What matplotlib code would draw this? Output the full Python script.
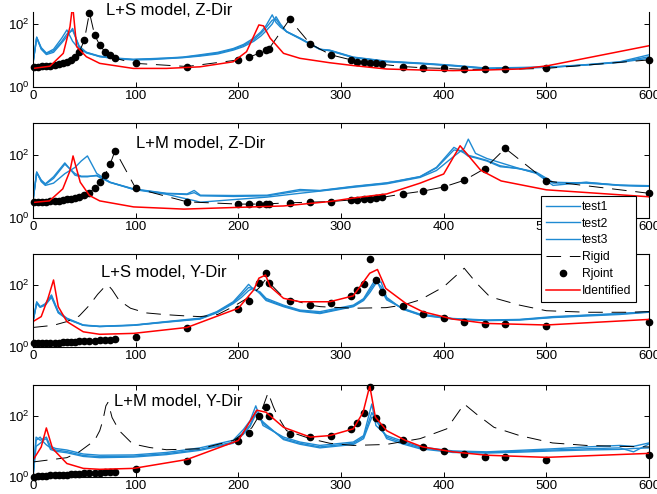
import numpy as np
import matplotlib
matplotlib.use('Agg')
import matplotlib.pyplot as plt

plt.rcParams['font.family'] = 'Liberation Sans'
plt.rcParams['mathtext.fontset'] = 'custom'
plt.rcParams['mathtext.rm'] = 'Liberation Sans'
plt.rcParams['mathtext.it'] = 'Liberation Sans'
plt.rcParams['mathtext.default'] = 'regular'

# joint-model samples (same frequencies in every panel)
f_joint = [1, 5, 9, 13, 17, 21, 25, 29, 33, 37, 41, 45, 50, 55, 60, 65, 70, 75, 80,
           100, 150, 200, 210, 220, 227, 230, 250, 270, 290, 310, 316, 322, 328, 334,
           340, 360, 380, 400, 420, 440, 460, 500, 600]
joint_zs = [4.47, 4.47, 4.57, 4.68, 4.79, 5.01, 5.25, 5.62, 6.31, 7.24, 8.91, 12.6, 30.9, 229,
            44.7, 21.4, 13.2, 10.5, 8.13, 5.62, 4.47, 7.24, 8.71, 11.7, 14.8, 16.6, 141, 23.4,
            10.5, 7.24, 6.31, 6.03, 5.62, 5.62, 5.25, 4.47, 4.07, 3.89, 3.63, 3.63, 3.63, 3.89, 7.24]
joint_zm = [3.09, 3.16, 3.24, 3.31, 3.39, 3.47, 3.55, 3.72, 3.89, 4.07, 4.37, 4.68, 5.25, 6.31,
            8.91, 13.5, 22.4, 49, 135, 8.71, 3.24, 2.75, 2.75, 2.75, 2.82, 2.82, 3.02, 3.16,
            3.31, 3.72, 3.8, 3.89, 4.07, 4.27, 4.47, 5.75, 7.08, 9.55, 15.5, 36.3, 158, 14.8, 6.03]
joint_ys = [1.32, 1.32, 1.32, 1.35, 1.35, 1.38, 1.38, 1.41, 1.41, 1.45, 1.48, 1.51, 1.55, 1.58,
            1.62, 1.66, 1.7, 1.74, 1.82, 2.14, 4.17, 16.6, 30.2, 117, 251, 117, 30.2, 22.4,
            26.9, 44.7, 69.2, 107, 692, 145, 60.3, 20.9, 11.5, 8.32, 6.46, 5.5, 5.37, 4.79, 6.46]
joint_ym = [1.02, 1.05, 1.07, 1.1, 1.12, 1.15, 1.15, 1.17, 1.2, 1.23, 1.26, 1.29, 1.32, 1.32,
            1.35, 1.38, 1.41, 1.41, 1.45, 1.78, 3.39, 14.8, 26.9, 100, 195, 100, 24.5, 20,
            22.4, 37.2, 56.2, 120, 871, 87.1, 43.7, 15.5, 9.55, 7.08, 5.5, 4.57, 4.37, 3.72, 5.13]

# rigid model in Y direction
f_rig_ys = [0, 20, 33, 45, 55, 63, 70, 73, 77, 84, 95, 110, 130, 150, 163, 180, 195, 210, 220,
            227, 231, 244, 255, 270, 280, 312, 344, 360, 377, 400, 420, 432, 445, 474, 500,
            540, 580, 600]
rig_ys = [4.27, 5.01, 6.61, 10, 22.4, 50.1, 89.1, 100, 70.8, 31.6, 17.8, 12.6, 11, 10, 9.55,
          11.2, 20, 39.8, 79.4, 158, 110, 39.8, 31.6, 22.4, 20, 17.8, 18.6, 22.4, 33.1, 87.1,
          347, 115, 41.7, 22.4, 14.8, 13.2, 13.2, 13.8]
f_rig_ym = [0, 33, 45, 60, 65, 68, 71, 73, 75, 77, 84, 97, 114, 130, 163, 195, 213, 222, 229,
            234, 238, 247, 270, 289, 312, 344, 377, 403, 420, 432, 449, 474, 506, 539, 571, 600]
rig_ym = [3.09, 4.27, 6.61, 15.5, 32.4, 69.2, 209, 269, 158, 87.1, 32.4, 12, 9.12, 7.76, 8.32,
          15.5, 39.8, 126, 562, 200, 100, 32.4, 17.8, 12.6, 10.7, 11.5, 17.8, 37.2, 240, 112,
          41.7, 22.4, 12.9, 10.7, 10, 9.55]

# identified model
f_id_zs = [0, 16.5, 29.5, 36, 38.6, 42.5, 52, 65, 97.6, 130, 162.6, 195, 208, 220, 224.5, 231,
           244, 260, 289, 312, 344.5, 377, 409, 442, 474, 500.5, 600]
id_zs = [3.89, 4.57, 11.7, 81.3, 398, 19.1, 9.12, 5.62, 3.89, 3.89, 4.37, 6.31, 13.2, 93.3,
         87.1, 35.5, 11.7, 8.13, 5.89, 4.79, 3.72, 3.47, 3.31, 3.47, 3.72, 4.68, 20.4]
f_id_zm = [0, 16, 29, 36, 39, 46, 55, 65, 98, 147, 195, 244, 289, 312, 344.5, 377, 400, 416,
           436, 456, 500, 600]
id_zm = [3.09, 3.47, 8.32, 30.9, 91.2, 13.5, 5.13, 3.47, 2.24, 1.91, 2.14, 2.4, 3.31, 4.27,
         5.75, 12.6, 24.5, 191, 32.4, 14.8, 7.76, 4.68]
f_id_ys = [0, 8, 14.6, 20, 24.6, 33, 49, 65, 98, 150, 200, 215, 220, 226.5, 231, 244, 260, 289,
           312, 328, 335.5, 343.6, 363, 379.5, 409, 442, 500, 600]
id_ys = [6.61, 9.55, 37.2, 145, 20, 6.61, 3.09, 2.57, 2.75, 4.27, 17.8, 69.2, 166, 209, 89.1,
         37.2, 28.8, 28.8, 44.7, 240, 316, 77.6, 25.7, 13.8, 7.94, 5.75, 5.13, 7.76]
f_id_ym = [0, 8, 13, 19, 33, 49, 65, 98, 150, 200, 218, 227, 244, 270, 289, 312, 321.5, 328,
           333.5, 344.5, 363, 379.5, 409, 442, 500, 600]
id_ym = [3.55, 9.55, 39.8, 8.51, 2.75, 1.91, 1.78, 1.91, 3.72, 15.5, 151, 129, 41.7, 20, 22.4,
         37.2, 129, 933, 89.1, 32.4, 15.5, 9.55, 6.61, 5.13, 4.37, 5.89]

# measured tests
f_t_zs = [0, 3.6, 8, 13, 20, 28, 33, 38.6, 45, 52, 65, 80, 97.6, 115, 130, 146, 162.6, 180, 195,
          205, 215, 222, 227, 233, 236.7, 241, 247, 260, 279.5, 289, 312, 344.5, 377, 409, 442,
          474, 506.5, 539, 571.5, 600]
t1_zs = [5.75, 38, 17.8, 12, 15.8, 35.5, 64.6, 28.2, 15.8, 12.6, 9.55, 8.32, 7.59, 7.94, 8.32,
         8.91, 10.5, 12.6, 16.6, 22.4, 35.5, 56.2, 89.1, 195, 112, 79.4, 57.5, 35.5, 15.8, 14.8,
         8.91, 6.61, 5.75, 4.9, 3.98, 4.17, 4.37, 5.13, 6.31, 10.5]
t2_zs = [5.75, 38, 15.8, 10.7, 12.6, 25.1, 39.8, 72.4, 17.8, 12, 9.33, 7.94, 7.24, 7.41, 7.94,
         8.51, 9.55, 11.2, 14.8, 19.1, 28.2, 41.7, 60.3, 100, 170, 100, 57.5, 35.5, 15.8, 14.1,
         8.51, 6.31, 5.5, 4.68, 3.8, 3.98, 4.27, 5.01, 6.03, 8.13]
t3_zs = [5.75, 35.5, 16.6, 11.5, 14.1, 28.2, 47.9, 63.1, 20, 12.6, 9.12, 8.13, 7.41, 7.76, 8.13,
         8.71, 10, 12, 15.8, 20.9, 31.6, 50.1, 75.9, 132, 141, 89.1, 56.2, 33.9, 15.5, 14.5,
         8.71, 6.46, 5.62, 4.79, 3.89, 4.07, 4.27, 5.01, 6.17, 9.12]

f_t_zm = [0, 3.6, 8, 12, 20, 31, 41, 47, 53, 62, 75, 98, 130, 150, 157, 163, 195, 228, 260,
          279.5, 312, 344.5, 377, 393, 410, 420, 424, 431, 442, 455, 474, 490, 506.5, 539,
          571.5, 600]
t1_zm = [3.47, 28.2, 15.8, 12, 20, 55, 22.4, 20, 20, 22.4, 13.5, 8.32, 6.03, 5.75, 7.41, 5.25,
         5.13, 5.25, 7.94, 7.41, 10, 12.9, 20.4, 39.8, 170, 112, 89.1, 79.4, 63.1, 41.7, 36.3,
         28.2, 13.5, 12.6, 10.7, 10]
t2_zm = [3.47, 28.2, 14.1, 10.7, 12.6, 25.1, 39.8, 63.1, 91.2, 25.7, 13.5, 7.94, 5.62, 3.98,
         3.55, 3.16, 3.8, 4.57, 6.03, 7.08, 9.33, 12, 19.1, 31.6, 89.1, 158, 309, 110, 75.9,
         56.2, 36.3, 25.7, 10.7, 13.5, 10.7, 10]
t3_zm = [3.47, 26.3, 15.1, 11.5, 17.8, 50.1, 25.1, 20.9, 20.9, 21.4, 13.2, 8.13, 5.89, 5.5,
         6.31, 5.01, 4.79, 5.01, 7.24, 7.24, 9.77, 12.6, 20, 38, 141, 126, 95.5, 83.2, 66.1,
         44.7, 35.5, 26.9, 12.6, 13.2, 11, 10.5]

f_t_ys = [0, 3.6, 7, 12, 18, 24.6, 33, 49, 65, 98, 130, 162.6, 179, 195, 203, 210, 215, 221,
          227, 244, 260, 279.5, 312, 322, 328, 334, 339, 344.5, 360, 377, 409, 442, 474, 506.5,
          539, 571.5, 600]
t1_ys = [6.61, 28.8, 20, 25.1, 47.9, 13.8, 8.51, 5.13, 4.68, 5.13, 6.61, 8.51, 13.8, 28.8,
         56.2, 105, 70.8, 60.3, 37.2, 22.4, 15.5, 13.8, 22.4, 36.3, 77.6, 162, 69.2, 33.1,
         17.8, 11.5, 8.32, 7.41, 7.76, 9.55, 10.7, 12, 13.8]
t2_ys = [6.61, 25.1, 19.1, 22.4, 39.8, 12.6, 7.94, 5.01, 4.57, 5.01, 6.31, 7.94, 12.6, 25.1,
         39.8, 66.1, 79.4, 52.5, 31.6, 20, 14.1, 12, 20, 31.6, 56.2, 112, 126, 39.8, 16.6,
         10.7, 7.94, 7.08, 7.41, 8.91, 10, 11.2, 13.2]
t3_ys = [6.61, 26.9, 19.5, 23.4, 43.7, 13.2, 8.13, 5.01, 4.57, 5.01, 6.46, 8.13, 13.2, 26.9,
         47.9, 83.2, 75.9, 56.2, 33.9, 20.9, 14.8, 12.6, 20.9, 33.9, 66.1, 132, 89.1, 36.3, 17,
         11, 8.13, 7.24, 7.59, 9.12, 10.5, 11.7, 13.5]

f_t_ym = [0, 3, 7, 10, 13, 17, 22, 33, 49, 65, 98, 130, 162.6, 195, 205, 211.5, 217, 224, 244,
          260, 279.5, 312, 322, 330, 334, 344.5, 360, 377, 409, 442, 474, 506.5, 539, 571.5,
          585, 600]
t1_ym = [1, 20, 15.8, 17.8, 20, 10, 8.51, 7.59, 5.62, 5.13, 5.25, 6.31, 8.91, 15.8, 35.5, 69.2,
         209, 47.9, 20, 13.8, 10.7, 13.8, 22.4, 240, 47.9, 22.4, 14.8, 9.55, 7.08, 6.61, 7.41,
         8.32, 9.55, 10.7, 10, 12.9]
t2_ym = [1, 15.8, 20, 14.1, 11.2, 8.91, 7.59, 6.76, 5.01, 4.57, 4.79, 5.75, 7.94, 13.8, 28.2,
         50.1, 141, 56.2, 17.8, 12.6, 9.55, 12.6, 20, 126, 70.8, 20, 13.2, 8.91, 6.76, 6.31,
         6.92, 7.59, 8.32, 8.91, 6.61, 12]
t3_ym = [1, 10, 12.6, 15.8, 17.8, 7.94, 6.92, 6.17, 4.68, 4.27, 4.47, 5.37, 7.41, 12.6, 25.1,
         44.7, 112, 63.1, 16.6, 11.7, 8.91, 11.5, 17.8, 89.1, 89.1, 17.8, 12, 8.32, 6.31, 6.03,
         6.46, 7.08, 7.59, 7.94, 8.51, 8.91]

titles = ['L+S model, Z-Dir', 'L+M model, Z-Dir', 'L+S model, Y-Dir', 'L+M model, Y-Dir']
xticks = [0, 100, 200, 300, 400, 500, 600]

BLUE = '#1f8ad2'
RED = '#ff0000'


def panel(ax, f_t, tests, f_rig, rig, joint, f_id, ident, title, tx, ty, ytop):
    lines = []
    for i, t in enumerate(tests):
        l, = ax.plot(f_t, t, color=BLUE, lw=1.0, label='test%d' % (i + 1))
        lines.append(l)
    l, = ax.plot(f_rig, rig, color='k', lw=0.7, ls=(0, (15, 9)), label='Rigid')
    lines.append(l)
    l, = ax.plot(f_joint, joint, 'o', color='k', ms=4.5, label='Rjoint', clip_on=False)
    lines.append(l)
    l, = ax.plot(f_id, ident, color=RED, lw=1.1, label='Identified')
    lines.append(l)
    ax.set_yscale('log')
    ax.set_xlim(0, 600)
    ax.set_ylim(1, ytop)
    ax.set_xticks(xticks)
    ax.set_yticks([1, 100])
    ax.set_yticklabels(['$10^0$', '$10^2$'])
    ax.yaxis.set_minor_locator(matplotlib.ticker.NullLocator())
    ax.tick_params(direction='in', top=True, right=True, length=3.5, width=0.7,
                   labelsize=9.5, pad=2.5)
    for s in ax.spines.values():
        s.set_linewidth(0.8)
    ax.text(tx, ty, title, fontsize=12, va='baseline', ha='left')
    return lines


fig = plt.figure(figsize=(6.57, 4.94), dpi=100)
W, H = 657.0, 494.0
L, R = 33, 649


def box(top, bottom):
    return [L / W, 1 - bottom / H, (R - L) / W, (bottom - top) / H]


ax1 = fig.add_axes(box(12, 87))
ax2 = fig.add_axes(box(123, 218))
ax3 = fig.add_axes(box(254, 347))
ax4 = fig.add_axes(box(385, 477))

panel(ax1, f_t_zs, [t1_zs, t2_zs, t3_zs], f_joint, joint_zs, joint_zs, f_id_zs, id_zs,
      titles[0], 71, 195, 240)
ax1.spines['top'].set_visible(False)
ax1.tick_params(top=False)
panel(ax2, f_t_zm, [t1_zm, t2_zm, t3_zm], f_joint, joint_zm, joint_zm, f_id_zm, id_zm,
      titles[1], 100, 162, 1000)
handles = panel(ax3, f_t_ys, [t1_ys, t2_ys, t3_ys], f_rig_ys, rig_ys, joint_ys, f_id_ys, id_ys,
                titles[2], 66, 186, 1000)
panel(ax4, f_t_ym, [t1_ym, t2_ym, t3_ym], f_rig_ym, rig_ym, joint_ym, f_id_ym, id_ym,
      titles[3], 79, 209, 1000)

leg = fig.legend(handles=handles, loc='upper left', bbox_to_anchor=(541 / W, 1 - 196 / H),
                 bbox_transform=fig.transFigure, fancybox=False, framealpha=1,
                 edgecolor='black', fontsize=8.7, handlelength=2.8, handletextpad=0.2,
                 labelspacing=0.4, borderpad=0.4, borderaxespad=0, numpoints=1)
leg.get_frame().set_linewidth(0.8)

fig.savefig('out.png', dpi=100)
